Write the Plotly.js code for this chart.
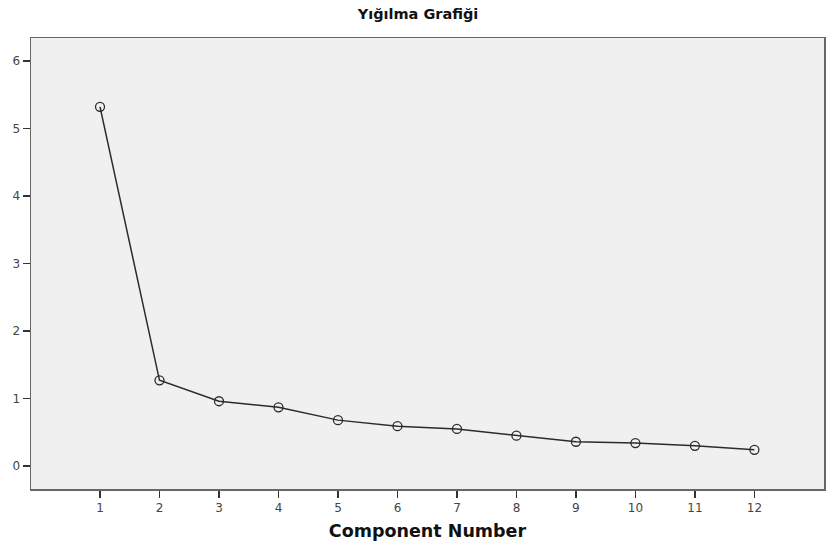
<!DOCTYPE html>
<html><head><meta charset="utf-8">
<script src="https://cdn.plot.ly/plotly-3.0.1.min.js"></script>
<style>html,body{margin:0;padding:0;background:#fff;}#c{width:836px;height:543px;}</style>
</head><body><div id="c"></div>
<script>
const components = [1,2,3,4,5,6,7,8,9,10,11,12];
const eigenvalues = [5.32,1.27,0.96,0.87,0.68,0.59,0.55,0.45,0.36,0.34,0.30,0.24];
const yTicks = [0,1,2,3,4,5,6];

Plotly.newPlot('c', [{
  x: components, y: eigenvalues, type: 'scatter', mode: 'lines+markers',
  line: {color: '#2b2b2b', width: 1.5},
  marker: {symbol: 'circle-open', size: 9, color: '#2b2b2b', line: {width: 1.3}},
  hoverinfo: 'none'
}], {
  width: 836, height: 543,
  margin: {l: 31, r: 12, t: 38, b: 54},
  paper_bgcolor: '#ffffff', plot_bgcolor: '#f0f0f0',
  showlegend: false,
  title: {text: 'Yığılma Grafiği', font: {family: 'DejaVu Sans, Verdana', size: 14.5, color: '#111', weight: 'bold'}, x: 0.5, xanchor: 'center', y: 0.975, yanchor: 'middle'},
  xaxis: {
    range: [-0.16, 13.17], tickvals: components, ticktext: components.map(String),
    ticks: 'outside', ticklen: 7, tickwidth: 1.5, tickcolor: '#333',
    showgrid: false, zeroline: false, showline: true, linecolor: '#666', linewidth: 1.5, mirror: true,
    tickfont: {family: 'DejaVu Sans, Verdana', size: 12, color: '#444'},
    title: {text: 'Component Number', font: {family: 'DejaVu Sans, Verdana', size: 17.5, color: '#111', weight: 'bold'}, standoff: 11}
  },
  yaxis: {
    range: [-0.34, 6.34], tickvals: yTicks, ticktext: yTicks.map(String),
    ticks: 'outside', ticklen: 7, tickwidth: 1.5, tickcolor: '#333',
    showgrid: false, zeroline: false, showline: true, linecolor: '#666', linewidth: 1.5, mirror: true,
    tickfont: {family: 'DejaVu Sans, Verdana', size: 12, color: '#444'}
  }
}, {staticPlot: true, displayModeBar: false});
</script></body></html>
